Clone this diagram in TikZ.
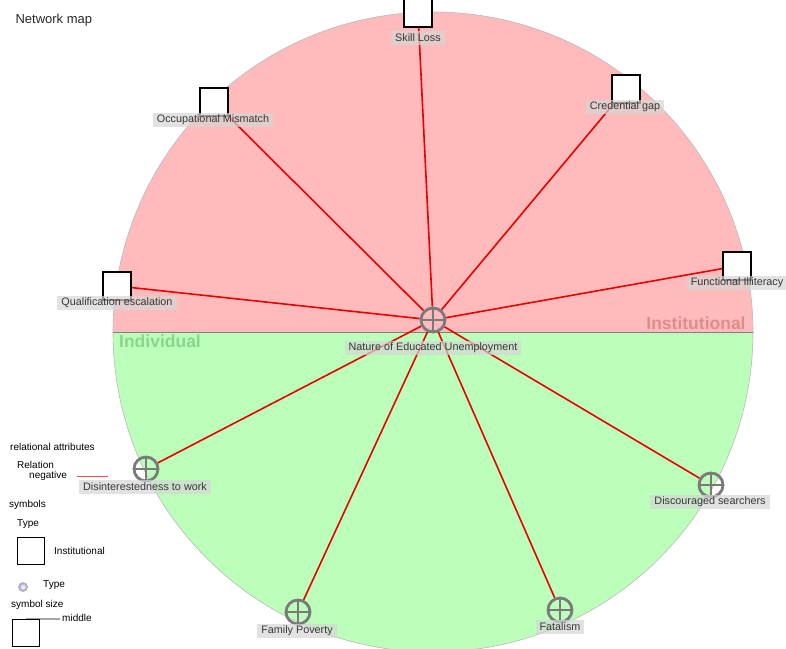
\documentclass[tikz,border=0pt]{standalone}
\usepackage{fontspec}
\setmainfont{Liberation Sans}

\definecolor{instpink}{RGB}{255,187,187}
\definecolor{indgreen}{RGB}{187,255,187}
\definecolor{insttext}{RGB}{222,140,140}
\definecolor{indtext}{RGB}{140,212,140}
\definecolor{symgray}{RGB}{122,122,122}
\definecolor{relred}{RGB}{235,0,0}
\definecolor{tagtext}{RGB}{55,55,55}

\pgfdeclarelayer{back}
\pgfdeclarelayer{lines}
\pgfsetlayers{back,lines,main}

\tikzset{
  factor/.style={draw=black, fill=white, line width=1.1pt, minimum size=28pt, inner sep=0pt},
  agent/.style={circle, draw=symgray, line width=2.8pt, minimum size=24pt, inner sep=0pt,
    path picture={\draw[symgray, line width=2.8pt]
      (path picture bounding box.north) -- (path picture bounding box.south)
      (path picture bounding box.west) -- (path picture bounding box.east);}},
  tag/.style={fill=black!16, fill opacity=0.7, text opacity=1, text=tagtext,
    font=\fontsize{10.8}{11}\selectfont, inner xsep=4pt, inner ysep=0pt, minimum height=14pt},
  relation/.style={relred, line width=1.6pt},
  legend/.style={font=\fontsize{10}{11}\selectfont, inner sep=0pt, anchor=west},
  sector/.style={font=\bfseries\fontsize{17.5}{18}\selectfont},
}

\begin{document}
\begin{tikzpicture}[x=1pt,y=-1pt]
\useasboundingbox (0,0) rectangle (786,648);
\clip (0,0) rectangle (786,648);

% the two halves
\begin{pgfonlayer}{back}
  \begin{scope}
    \clip (0,0) rectangle (786,332);
    \fill[instpink] (433,332) circle[radius=320pt];
  \end{scope}
  \begin{scope}
    \clip (0,332) rectangle (786,648);
    \fill[indgreen] (433,332) circle[radius=320pt];
  \end{scope}
  \draw[gray!55, line width=0.6pt] (433,332) circle[radius=320pt];
  \draw[gray, line width=0.7pt] (113,332) -- (753,332);
\end{pgfonlayer}

\node[sector, text=insttext] (inst) at (696,323) {Institutional};
\node[sector, text=indtext] (indiv) at (160,341) {Individual};

\node[font=\fontsize{13}{14}\selectfont, anchor=west, text=black!85] (title) at (12,20) {Network map};

% factors
\node[agent] (nature) at (433,320) {};
\node[factor] (skill) at (418,13) {};
\node[factor] (credential) at (626,89) {};
\node[factor] (mismatch) at (214,102) {};
\node[factor] (escalation) at (117,286) {};
\node[factor] (illiteracy) at (737,266) {};
\node[agent] (disinterest) at (146,469) {};
\node[agent] (discouraged) at (711,485) {};
\node[agent] (poverty) at (298,612) {};
\node[agent] (fatalism) at (560,610) {};

% relations
\begin{pgfonlayer}{lines}
  \foreach \n in {skill,credential,mismatch,escalation,illiteracy,disinterest,discouraged,poverty,fatalism}
    \draw[relation] (nature) -- (\n);
\end{pgfonlayer}

% labels
\node[tag] (nature-lbl) at (433,348) {Nature of Educated Unemployment};
\node[tag] (skill-lbl) at (418,38) {Skill Loss};
\node[tag] (credential-lbl) at (625,107) {Credential gap};
\node[tag] (mismatch-lbl) at (213,120) {Occupational Mismatch};
\node[tag] (escalation-lbl) at (117,303) {Qualification escalation};
\node[tag] (illiteracy-lbl) at (737,283) {Functional Illiteracy};
\node[tag] (disinterest-lbl) at (145,487) {Disinterestedness to work};
\node[tag] (discouraged-lbl) at (710,502) {Discouraged searchers};
\node[tag] (poverty-lbl) at (297,631) {Family Poverty};
\node[tag] (fatalism-lbl) at (560,627) {Fatalism};

% legend
\node[legend] (rel-head) at (10,447) {relational attributes};
\node[legend] (rel-name) at (17,465) {Relation};
\node[legend] (rel-neg) at (29,476) {negative};
\coordinate (neg-a) at (77,476);
\coordinate (neg-b) at (108,476);
\draw[relred!70, line width=0.6pt] (neg-a) -- (neg-b);
\node[legend] (sym-head) at (9,505) {symbols};
\node[legend] (type-a) at (17,524) {Type};
\node[factor, line width=0.9pt, minimum size=27pt] (type-box) at (31,551) {};
\node[legend] (type-inst) at (54,551) {Institutional};
\node[circle, draw=gray!60, line width=1.8pt, inner color=white, outer color=blue!30,
      minimum size=8pt, inner sep=0pt] (type-dot) at (23,587) {};
\node[legend] (type-b) at (43,585) {Type};
\node[legend] (size-head) at (11,605) {symbol size};
\node[factor, line width=0.9pt, minimum size=27pt] (size-box) at (26,633) {};
\coordinate (size-tick) at (60,619);
\draw[line width=0.7pt] (size-box.north) -- (size-tick);
\node[legend] (size-mid) at (62,618) {middle};
\end{tikzpicture}
\end{document}
